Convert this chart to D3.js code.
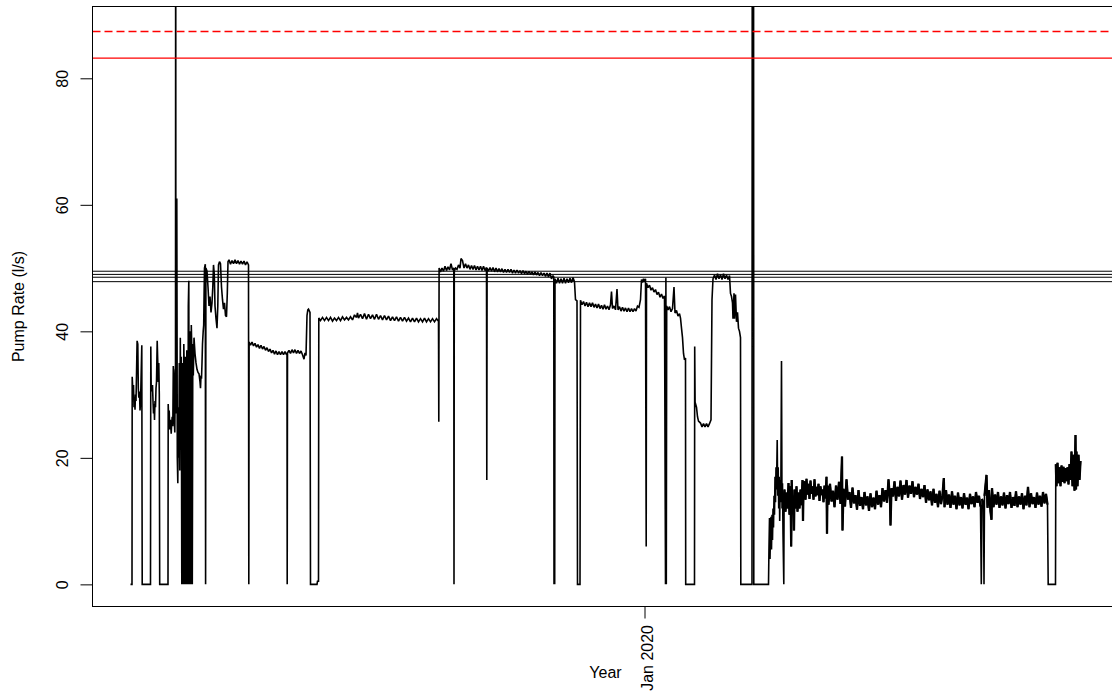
<!DOCTYPE html>
<html>
<head>
<meta charset="utf-8">
<script src="https://cdn.jsdelivr.net/npm/d3@7"></script>
<style>
  html, body { margin: 0; padding: 0; background: #fff; }
  svg { display: block; }
  text { font-family: "Liberation Sans", Arial, sans-serif; fill: #000; }
</style>
</head>
<body>
<svg id="chart" width="1112" height="698"></svg>
<script>
// ---------------- DATA ----------------
const startDate = Date.UTC(2019, 3, 19);          // day 0 of the record
const yTicks = [0, 20, 40, 60, 80];
const xTickDates = [Date.UTC(2020, 0, 1)];
const xTickLabels = ["Jan 2020"];
const redSolidLimit = 83.2;
const redDashedLimit = 87.4;
const blackLimits = [49.5, 49.0, 48.55, 47.85];
const noisyPeriodStart = 326.8;   // day from which the record is very noisy
const xLabel = "Year";
const yLabel = "Pump Rate (l/s)";

// [day since start, pump rate l/s]
const pumpRate = [
[0,0],[0.75,0],[0.85,32.8],[1.25,30],[1.5,31.5],[1.75,28],[2,29.5],[2.25,27.6],[2.5,30],[2.75,29],[3,33],[3.3,38.5],[3.65,38],[3.9,31],[4.15,29.5],[4.5,30.5],[4.75,27.5],[5,28.5],[5.65,37.8],[5.85,0],
[10,0],[10.15,37.6],[10.35,31],[10.75,30.5],[11,31.5],[11.25,29],[11.5,27],[11.75,28.5],[12,26],[12.25,29],[12.5,28],[12.75,31],[13,32],[13.35,38.5],[13.65,35],[13.85,32],[14.15,35],[14.4,30],[14.6,0],
[18.75,0],[18.85,28.5],[19.1,26],[19.35,27.5],[19.6,24.5],[19.85,26],[20.1,25.2],[20.35,23.8],[20.6,25.5],[20.85,26.5],[21.15,25],[21.4,34.5],[21.65,33],[21.9,26],[22.15,24],[22.4,34],[22.5,30],[22.6,130],[22.7,27],
[23.15,61],[23.4,20],[23.65,16],[23.9,28],[24.15,20],[24.4,35],[24.65,18],[24.9,39],[25.15,22],[25.4,36],[25.65,0],[25.9,35],[26.15,34],[26.4,0],[26.65,38],[26.9,33],[27.15,0],[27.4,36],[27.65,35],[27.9,0],
[28.15,37],[28.4,34],[28.65,0],[28.9,44],[29.15,48],[29.4,0],[29.65,40],[29.9,38],[30.15,0],[30.4,41],[30.65,37],[30.9,0],[31.15,38],[31.4,33],[31.75,39],[32.25,36.5],[32.75,35],[33.25,34],[33.75,33.5],[34.25,33.3],
[34.75,32],[35,31],[35.25,33],[35.5,32.5],[35.75,35],[36,38],[36.35,40],[36.6,41],[36.8,46],[37,50],[37.4,50.6],[37.55,0],[37.7,50],[38.25,49.5],[38.75,47],[39.25,44],[39.75,45.5],[40.25,43],[40.75,44.5],
[41.15,47],[41.5,50.5],[41.9,49],[42.25,44],[42.75,42],[43.25,40.5],[43.65,44],[44,50.5],[44.5,51],[45,50.7],[45.5,47],[46,45],[46.5,43.5],[47,44.5],[47.5,42.5],[48,42.3],[48.4,46],[48.75,51],
[49.25,51.3],[50,50.6],[50.75,51.2],[51.5,50.7],[52.25,51.3],[53,50.7],[53.75,51.2],[54.5,50.6],[55.25,51.1],[56,50.6],[56.75,51.1],[57.5,50.5],[58.25,51],[59,50.5],[59.15,0],
[59.3,38.3],[60,37.8],[60.75,38.3],[61.5,37.7],[62.25,38.1],[63,37.5],[63.75,37.9],[64.5,37.3],[65.25,37.8],[66,37.2],[66.75,37.6],[67.5,37],[68.25,37.4],[69,36.8],[69.75,37.2],[70.5,36.6],
[71.25,37],[72,36.4],[72.75,36.9],[73.5,36.3],[74.25,36.8],[75,36.3],[75.75,36.8],[76.5,36.3],[77.25,36.8],[78,36.3],[78.25,36.6],[78.35,0],[78.5,36.6],
[79.25,37],[80,36.5],[80.75,37.1],[81.5,36.6],[82.25,37.1],[83,36.5],[83.75,37],[84.5,36.5],[85.25,36.9],[86,36.3],[86.75,35.6],[87.25,36.6],[87.75,36.2],[88.25,42.5],[88.65,43.4],[89,43.5],[89.75,43],[90,0],
[93.25,0],[93.5,0.5],[94,0.5],
[94.15,42.1],[95,41.7],[96,42.2],[97,41.7],[98,42.2],[99,41.7],[100,42.2],[101,41.6],[102,42.1],[103,41.7],[104,42.2],[105,41.7],[106,42.3],[107,41.8],[108,42.2],[109,41.8],[110,42.3],[111,41.8],
[112,42.6],[113,42.2],[113.5,42.9],[114,42.1],[115,42.7],[116,42],[117,42.8],[118,41.9],[119,42.7],[120,42],[121,42.6],[122,41.9],[123,42.7],[124,41.9],[125,42.5],[126,41.8],[127,42.5],[128,41.8],
[129,42.4],[130,41.7],[131,42.3],[132,41.7],[133,42.3],[134,41.6],[135,42.2],[136,41.6],[137,42.2],[138,41.6],[139,42.1],[140,41.5],[141,42.1],[142,41.5],[143,42.1],[144,41.5],[145,42],[146,41.5],
[147,42.1],[148,41.5],[149,42],[150,41.5],[151,42],[152,41.5],[153,42],[154,41.6],[154.15,25.7],
[154.3,50],[155,49.4],[155.75,50],[156.5,49.5],[157.25,50.3],[158,49.6],[158.75,50.2],[159.5,49.7],[160.25,50.7],[161,49.7],[161.65,50],[161.75,0],[161.9,49.5],[162.5,50],[163.25,49.8],[164,50.5],
[164.75,50],[165.25,51.5],[166,51.2],[166.75,50],[167.5,50.7],[168.25,50],[169,50.5],[169.75,49.8],[170.5,50.4],[171.25,49.8],[172,50.4],[172.75,49.7],[173.5,50.3],[174.25,49.7],[175,50.3],
[175.75,49.6],[176.5,50.3],[177.25,49.6],[178,50.1],[178.15,16.5],[178.3,50],[179,49.5],[179.75,50.1],[180.5,49.5],[181.25,50.1],[182,49.4],[182.75,50],[183.5,49.4],[184.25,49.9],[185,49.4],
[185.75,49.9],[186.5,49.3],[187.25,49.8],[188,49.3],[188.75,49.8],[189.5,49.3],[190.25,49.8],[191,49.2],[191.75,49.7],[192.5,49.2],[193.25,49.7],[194,49.2],[194.75,49.6],[195.5,49.1],[196.25,49.6],
[197,49.1],[197.75,49.5],[198.5,49],[199.25,49.5],[200,49],[200.75,49.4],[201.5,48.9],[202.25,49.4],[203,48.9],[203.75,49.3],[204.5,48.8],[205.25,49.3],[206,48.8],[206.75,49.2],[207.5,48.7],
[208.25,49.2],[209,48.6],[209.75,49.2],[210.5,48.3],[211.25,48.8],[211.65,48.6],[211.75,0],[211.9,47.8],[212.1,0],
[212.25,48.3],[213,47.6],[213.75,48.4],[214.5,47.6],[215.25,48.3],[216,47.6],[216.75,48.4],[217.5,47.6],[218.25,48.3],[219,47.7],[219.75,48.4],[220.5,47.7],[221.25,48.5],[222,47.8],
[222.5,45],[223.25,44.8],[223.5,0],[224.75,0],
[225,44.9],[225.75,44.2],[226.5,44.7],[227.25,44],[228,44.6],[228.75,43.9],[229.5,44.5],[230.25,43.9],[231,44.5],[231.75,43.8],[232.5,44.3],[233.25,43.7],[234,44.3],[234.75,43.6],[235.5,44.1],
[236.25,43.5],[237,44.2],[237.75,43.5],[238.5,44],[239.25,43.4],[240,44.2],[240.5,46.3],[241,43.6],[241.75,44],[242.5,43.4],[243.25,46.7],[243.75,43.4],[244.5,43.9],[245.25,43.2],[246,43.8],
[246.75,43.2],[247.5,43.7],[248.25,43.1],[249,43.7],[249.75,43.1],[250.5,43.6],[251.25,43.1],[252,43.6],[252.75,43.2],[253.5,44],[254.25,43.8],[255,45],
[255.5,48.2],[256,47.7],[256.5,48.3],[257,47.8],[257.5,48.3],[257.85,6],[258,47.6],[258.75,46.9],[259.5,47.3],[260.25,46.5],[261,46.9],[261.75,46.2],[262.5,46.6],[263.25,45.8],[264,46.2],
[264.75,45.4],[265.5,45.9],[266.25,45.2],[267,45.6],[267.5,0],[267.7,48.5],[267.9,0],
[268.1,44],[268.75,43.4],[269.5,43.9],[270.25,43.1],[271,43.6],[271.75,47],[272.25,42.9],[273,43.3],[273.75,42.4],[274.5,42.8],[275,42.1],[275.5,40.5],
[276,39],[276.5,36.5],[277,35.5],[277.5,35.8],[277.6,0],[282,0],[282.1,37.6],[282.3,28.8],[283,28],[283.5,26.5],[284,25.8],
[285,25.5],[285.75,24.9],[286.5,25.4],[287.25,24.9],[288,25.4],[288.75,24.9],[289.5,25.4],[290.25,26],[290.75,45],
[291.25,48.3],[292,48.9],[292.75,48.2],[293.5,49.1],[294.25,48.3],[295,49],[295.75,48.2],[296.5,49.1],[297.25,48.3],[298,48.9],[298.75,48.2],[299.5,48.8],
[300,46],[300.5,45.5],[301,44.5],[301.25,42],[301.75,46],[302,42],[302.5,45.8],[303,41.5],[303.5,43],
[304,40.5],[304.5,40],[305,39],[305.15,0],[310.75,0],[310.9,130],[311.5,130],[311.65,0],[319,0],
[319.25,6],[319.5,10.5],[319.75,4],[320,8],[320.25,10.7],[320.5,5.5],[320.75,11],[321,7],[321.25,12],[321.5,9],[321.75,14],[322,11],[322.25,17],[322.5,13],[322.75,18.5],[323,15],[323.35,22.8],
[323.6,14],[323.85,18.5],[324.1,12],[324.35,17],[324.6,10],[324.85,16.5],[325.15,13],[325.5,35.3],[325.75,12],[326,16],[326.25,8],[326.65,0],[326.8,14],
[327,15],[327.5,11.5],[328,14.5],[328.5,12],[329,16],[329.5,11],[330,15.5],[330.35,6],[330.6,16.5],[331,11.5],[331.5,14],[331.75,8.5],[332,15],[332.5,12],[333,15.5],[333.5,11.5],[334,14.5],
[334.5,12],[335,15],[335.5,12.5],[336,16.5],[336.25,10],[336.5,15.5],
[337,16.3],[337.5,13.4],[338,16.7],[338.5,14.2],[339,15.9],[339.5,13.5],[340,16.4],[340.5,14.3],[341,15.5],[341.5,13.4],[342,16.6],[342.5,13.9],[343,15.4],[343.5,14.1],[344,15.9],[344.5,13.2],
[345,15.5],[345.5,14.1],[346,15],[346.5,13],[347,15.6],[347.5,13.6],[348,17],[348.25,8],[348.5,15.6],
[349,12.6],[349.75,15.9],[350.5,13.1],[351.25,14.8],[352,12.2],[352.75,15.6],[353.5,13.4],[354.25,16.2],[355,12.7],[355.75,20.2],[356,8.5],[356.5,15.1],[357.25,12.3],[358,16.6],[358.75,13.4],
[359.5,14.6],[360.25,12.1],[361,15.3],[361.75,12.8],[362.5,14.1],[363.25,11.8],[364,14.9],[364.75,12.4],[365.5,13.8],[366.25,11.9],[367,14.6],[367.75,12.5],[368.5,13.9],[369.25,11.6],[370,14.4],
[370.75,12.2],[371.5,13.7],[372.25,11.9],[373,14.8],[373.75,12.6],[374.5,14.1],[375.25,12.2],[376,15.2],[376.75,13.1],[377.5,14.9],[378.25,12.9],[379,16.6],[379.75,13.5],[380,9.3],[380.5,15.2],
[381.25,13.9],[382,16.3],[382.75,13.2],[383.5,15.4],[384.25,13.9],[385,16.4],[385.75,13.4],[386.5,15.7],[387.25,14.2],[388,16.5],[388.75,13.7],[389.5,15.6],[390.25,14.3],[391,16.3],[391.75,13.8],
[392.5,15.4],[393.25,14.2],[394,15.9],[394.75,13.5],[395.5,15.1],[396.25,13.8],[397,15.7],[397.75,12.9],[398.5,15],[399.25,13.3],[400,14.7],[400.75,12.5],[401.5,15.1],[402.25,12.9],[403,14.3],
[403.75,12.2],[404.5,14.8],[405.25,12.7],[406,14.1],[406.65,16.8],[407,12.2],[407.75,14.9],[408.5,12.6],[409.25,14.2],[410,12.1],[410.75,14.7],[411.5,12.6],[412.25,14],[413,11.9],[413.75,14.5],
[414.5,12.5],[415.25,13.8],[416,12],[416.75,14.4],[417.5,12.6],[418.25,13.7],[419,11.9],[419.75,14.3],[420.5,12.7],[421.25,13.9],[422,12.2],[422.75,14.6],[423.5,12.9],[424.25,14],[425,12.3],
[425.4,0],[425.75,13.5],[426.5,12.8],[426.75,0],[427,14],
[428,17.3],[428.5,12.1],[429.25,14.9],[430,11.5],[430.5,10.2],[430.75,15.2],[431.5,12.2],[432.25,14.2],[433,12.6],[433.75,14.6],[434.5,12.1],[435.25,13.9],[436,12.5],[436.75,14.5],[437.5,12],
[438.25,14.1],[439,12.7],[439.75,14.6],[440.5,12.1],[441.25,13.8],[442,12.4],[442.75,14.7],[443.5,12.2],[444.25,13.9],[445,12.6],[445.75,14.4],[446.5,11.9],[447.25,14],[448,12.5],[448.75,15.4],
[449.5,12.2],[450.25,14.4],[451,12.7],[451.75,13.8],[452.5,12.1],[453.25,14.5],[454,12.6],[454.75,14],[455.5,12.3],[456.25,14.6],[457,12.8],[457.75,14.3],[458.5,12.6],[458.85,0],[462.5,0],
[462.65,19],[463,15.5],[463.5,19.2],[464,16],[464.5,18.5],[465,15.5],[465.5,18.8],[466,16.2],[466.5,18.6],[467,16],[467.5,18.4],[468,16.3],[468.5,18.5],[469,15.8],[469.5,19],[470,16.5],
[470.5,21],[471,15.5],[471.5,20.5],[472,14.8],[472.5,23.6],[472.75,15],[473,21],[473.5,15.5],[474,20.5],[474.5,16.5],[475,19.5]
];

// ---------------- CHART ----------------
const svg = d3.select("#chart");
const plotL = 92.5, plotR = 1118.5, plotT = 6.5, plotB = 606.5;
const DAY = 864e5;
const toDate = d => new Date(startDate + d * DAY);

const ext = d3.extent(pumpRate, d => d[0]);
const pad = (ext[1] - ext[0]) * 0.04;
const x = d3.scaleUtc()
  .domain([toDate(ext[0] - pad), toDate(ext[1] + pad)])
  .range([plotL, plotR]);
const y = d3.scaleLinear().domain([-3.5, 91.35]).range([plotB, plotT]);

svg.append("defs").append("clipPath").attr("id", "plotclip")
  .append("rect").attr("x", plotL).attr("y", plotT)
  .attr("width", plotR - plotL).attr("height", plotB - plotT);

const plot = svg.append("g").attr("clip-path", "url(#plotclip)");

// data trace
const line = d3.line().x(d => x(toDate(d[0]))).y(d => y(d[1]));
plot.append("path").datum(pumpRate)
  .attr("d", line).attr("fill", "none")
  .attr("stroke", "#000").attr("stroke-width", 1.6)
  .attr("stroke-linejoin", "miter").attr("stroke-miterlimit", 2);
// the very noisy, densely sampled part renders as a solid band
const noisy = pumpRate.filter(d => d[0] >= noisyPeriodStart && d[1] > 0.0 || (d[0] >= noisyPeriodStart && false));
const segs = [];
let cur = [];
pumpRate.forEach(d => {
  if (d[0] < noisyPeriodStart) return;
  if (d[1] === 0) { if (cur.length) segs.push(cur); cur = []; }
  else cur.push(d);
});
if (cur.length) segs.push(cur);
plot.selectAll("path.noisy").data(segs).enter().append("path")
  .attr("class", "noisy")
  .attr("d", line).attr("fill", "none")
  .attr("stroke", "#000").attr("stroke-width", 2.3)
  .attr("stroke-linejoin", "miter").attr("stroke-miterlimit", 2);

// horizontal limit lines
plot.selectAll("line.blim").data(blackLimits).enter().append("line")
  .attr("class", "blim")
  .attr("x1", plotL).attr("x2", plotR)
  .attr("y1", d => y(d)).attr("y2", d => y(d))
  .attr("stroke", "#000").attr("stroke-width", 1);

plot.append("line")
  .attr("x1", plotL).attr("x2", plotR)
  .attr("y1", y(redSolidLimit)).attr("y2", y(redSolidLimit))
  .attr("stroke", "#ff0000").attr("stroke-width", 1.3);
plot.append("line")
  .attr("x1", plotL).attr("x2", plotR)
  .attr("y1", y(redDashedLimit)).attr("y2", y(redDashedLimit))
  .attr("stroke", "#ff0000").attr("stroke-width", 1.3)
  .attr("stroke-dasharray", "8,4");

// box
svg.append("rect").attr("x", plotL).attr("y", plotT)
  .attr("width", plotR - plotL).attr("height", plotB - plotT)
  .attr("fill", "none").attr("stroke", "#000").attr("stroke-width", 1);

// y axis
const yAxis = svg.append("g").attr("transform", `translate(${plotL},0)`)
  .call(d3.axisLeft(y).tickValues(yTicks).tickSize(12).tickSizeOuter(0));
yAxis.select(".domain").remove();
yAxis.selectAll(".tick line").attr("stroke", "#000");
yAxis.selectAll(".tick text")
  .attr("transform", "rotate(-90)")
  .attr("x", 0).attr("y", -24.5).attr("dy", 0)
  .attr("text-anchor", "middle")
  .style("font-size", "16px").style("font-family", '"Liberation Sans", Arial, sans-serif')
  .attr("fill", "#000");

// x axis
const xAxis = svg.append("g").attr("transform", `translate(0,${plotB})`)
  .call(d3.axisBottom(x).tickValues(xTickDates.map(t => new Date(t)))
    .tickFormat((d, i) => xTickLabels[i]).tickSize(12).tickSizeOuter(0));
xAxis.select(".domain").remove();
xAxis.selectAll(".tick line").attr("stroke", "#000");
xAxis.selectAll(".tick text")
  .attr("transform", "rotate(-90)")
  .attr("x", -18.5).attr("y", 8).attr("dy", 0)
  .attr("text-anchor", "end")
  .style("font-size", "16px").style("font-family", '"Liberation Sans", Arial, sans-serif')
  .attr("fill", "#000");

// axis titles
svg.append("text").attr("x", (plotL + plotR) / 2).attr("y", 678)
  .attr("text-anchor", "middle").style("font-size", "16px").text(xLabel);
svg.append("text").attr("transform", `translate(24,${(plotT + plotB) / 2}) rotate(-90)`)
  .attr("text-anchor", "middle").style("font-size", "16px").text(yLabel);
</script>
</body>
</html>
